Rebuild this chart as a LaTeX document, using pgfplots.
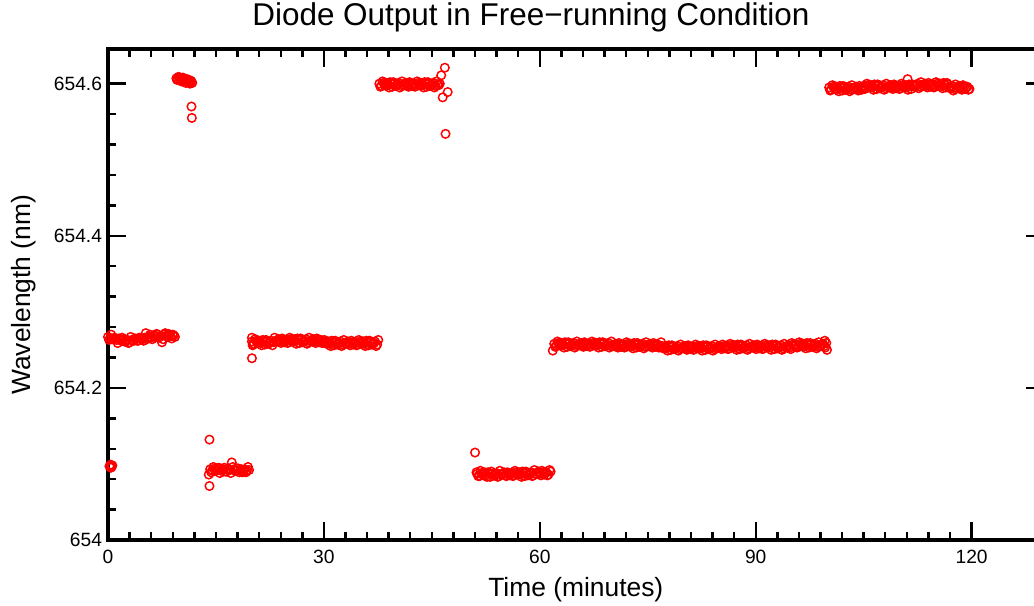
\documentclass[border=0pt]{standalone}
\usepackage{fontspec}
\setmainfont{Liberation Sans}
\usepackage{pgfplots}
\pgfplotsset{compat=1.18}
\pgfplotsset{pts/.style={only marks, mark=o, mark size=3.2pt, color=red, mark options={line width=1.1pt, solid, draw=red, fill=none}}}
\begin{document}
\begin{tikzpicture}
\begin{axis}[
  name=ax,
  scale only axis,
  width=701.7pt, height=367.9pt,
  xmin=0, xmax=130, ymin=654, ymax=654.645,
  clip=false,
  separate axis lines,
  axis line style={line width=3pt, line cap=rect},
  every outer x axis line/.append style={line width=3pt},
  every outer y axis line/.append style={line width=3pt},
  tick align=inside,
  major tick length=13.5pt, minor tick length=6pt,
  tick style={black, line width=1.8pt},
  every tick/.append style={line width=1.8pt},
  xtick={0,30,60,90,120}, xticklabels={0,30,60,90,120},
  minor x tick num=9,
  ytick={654,654.2,654.4,654.6}, yticklabels={654,654.2,654.4,654.6},
  minor y tick num=4,
  /pgf/number format/assume math mode=true,
  tick label style={font=\fontsize{14.4}{17}\selectfont},
  xticklabel style={yshift=-4pt},
  yticklabel style={xshift=-1pt},
  xlabel={Time (minutes)},
  ylabel={Wavelength (nm)},
  xlabel style={font=\fontsize{19.8}{23}\selectfont, at={(axis description cs:0.5,-0.1162)}, anchor=base},
  ylabel style={font=\fontsize{19.8}{23}\selectfont, at={(axis description cs:-0.0823,0.5)}, anchor=base},
  title={Diode Output in Free−running Condition},
  title style={font=\fontsize{23.6}{27}\selectfont, at={(axis description cs:0.452,1.0326)}, anchor=base},
]
% segment near 654.097 at t=0
\addplot[pts] coordinates {(0.2,654.097)(0.35,654.099)(0.5,654.096)(0.6,654.098)(0.4,654.095)};
% segment A
\addplot[pts] coordinates {
(0.0,654.267)(0.3,654.265)(0.6,654.264)(0.9,654.266)(1.2,654.263)(1.5,654.265)(1.8,654.262)(2.1,654.264)
(2.4,654.261)(2.7,654.263)(3.0,654.260)(3.3,654.263)(3.6,654.262)(3.9,654.264)(4.2,654.262)(4.5,654.265)
(4.8,654.264)(5.1,654.266)(5.4,654.264)(5.7,654.267)(6.0,654.266)(6.3,654.269)(6.6,654.267)(6.9,654.270)
(7.2,654.268)(7.5,654.260)(7.8,654.270)(8.1,654.268)(8.4,654.271)(8.7,654.268)(9.0,654.270)(9.3,654.267)};
\addplot[pts] table {
x y
0.15 654.263
0.45 654.270
0.75 654.265
1.05 654.265
1.35 654.259
1.65 654.264
1.95 654.266
2.25 654.261
2.55 654.263
2.85 654.259
3.15 654.267
3.45 654.262
3.75 654.265
4.05 654.262
4.35 654.266
4.65 654.265
4.95 654.262
5.25 654.272
5.55 654.267
5.85 654.270
6.15 654.264
6.45 654.269
6.75 654.271
7.05 654.266
7.35 654.268
7.65 654.264
7.95 654.272
8.25 654.267
8.55 654.270
8.85 654.265
9.15 654.269
};
% segment C
\addplot[pts] coordinates {
(9.5,654.607)(9.7,654.606)(9.9,654.608)(10.1,654.605)(10.3,654.607)(10.5,654.604)(10.7,654.606)
(10.9,654.603)(11.1,654.605)(11.3,654.602)(11.5,654.604)(11.7,654.601)(11.6,654.570)(11.65,654.555)
(9.6,654.605)(9.8,654.609)(10.0,654.606)(10.2,654.603)(10.4,654.608)(10.6,654.605)(10.8,654.601)
(11.0,654.606)(11.2,654.603)(11.4,654.600)(11.6,654.603)};
% segment D
\addplot[pts] coordinates {
(14.2,654.093)(14.5,654.091)(14.8,654.094)(15.1,654.092)(15.4,654.095)(15.7,654.091)(16.0,654.093)
(16.3,654.090)(16.6,654.094)(16.9,654.092)(17.2,654.102)(17.5,654.093)(17.8,654.091)(18.1,654.094)
(18.4,654.092)(18.7,654.089)(19.0,654.093)(19.3,654.091)(19.6,654.092)
(14.1,654.132)(14.1,654.071)(14.0,654.086)
(14.35,654.089)(14.65,654.096)(14.95,654.091)(15.25,654.094)(15.55,654.088)(15.85,654.093)(16.15,654.095)
(16.45,654.090)(16.75,654.092)(17.05,654.088)(17.35,654.096)(17.65,654.091)(17.95,654.094)(18.25,654.089)
(18.55,654.093)(18.85,654.092)(19.15,654.089)(19.45,654.096)};
% segment E
\addplot[pts] coordinates {
(20.0,654.261)(20.3,654.258)(20.6,654.262)(20.9,654.260)(21.2,654.259)(21.5,654.263)(21.8,654.257)(22.1,654.261)
(22.4,654.259)(22.7,654.262)(23.0,654.260)(23.3,654.262)(23.6,654.263)(23.9,654.261)(24.2,654.265)(24.5,654.260)
(24.8,654.263)(25.1,654.260)(25.4,654.264)(25.7,654.262)(26.0,654.261)(26.3,654.265)(26.6,654.259)(26.9,654.263)
(27.2,654.261)(27.5,654.264)(27.8,654.260)(28.1,654.262)(28.4,654.263)(28.7,654.261)(29.0,654.265)(29.3,654.260)
(29.6,654.263)(29.9,654.260)(30.2,654.261)(30.5,654.259)(30.8,654.258)(31.1,654.262)(31.4,654.256)(31.7,654.260)
(32.0,654.258)(32.3,654.261)(32.6,654.257)(32.9,654.259)(33.2,654.260)(33.5,654.258)(33.8,654.262)(34.1,654.257)
(34.4,654.260)(34.7,654.257)(35.0,654.261)(35.3,654.259)(35.6,654.258)(35.9,654.262)(36.2,654.256)(36.5,654.260)
(36.8,654.258)(37.1,654.261)(37.4,654.257)
(20.0,654.266)(20.0,654.239)(20.1,654.256)};
\addplot[pts] table {
x y
20.15 654.257
20.45 654.264
20.75 654.259
21.05 654.262
21.35 654.256
21.65 654.261
21.95 654.263
22.25 654.258
22.55 654.260
22.85 654.256
23.15 654.266
23.45 654.261
23.75 654.264
24.05 654.259
24.35 654.263
24.65 654.262
24.95 654.259
25.25 654.266
25.55 654.261
25.85 654.264
26.15 654.258
26.45 654.263
26.75 654.265
27.05 654.260
27.35 654.262
27.65 654.258
27.95 654.266
28.25 654.261
28.55 654.264
28.85 654.259
29.15 654.263
29.45 654.262
29.75 654.259
30.05 654.263
30.35 654.258
30.65 654.261
30.95 654.255
31.25 654.260
31.55 654.262
31.85 654.257
32.15 654.259
32.45 654.255
32.75 654.263
33.05 654.258
33.35 654.261
33.65 654.256
33.95 654.260
34.25 654.259
34.55 654.256
34.85 654.263
35.15 654.258
35.45 654.261
35.75 654.255
36.05 654.260
36.35 654.262
36.65 654.257
36.95 654.259
37.25 654.255
37.55 654.263
};
% segment F
\addplot[pts] coordinates {
(37.7,654.600)(38.0,654.597)(38.3,654.601)(38.6,654.599)(38.9,654.598)(39.2,654.602)(39.5,654.596)(39.8,654.600)
(40.1,654.598)(40.4,654.601)(40.7,654.597)(41.0,654.599)(41.3,654.600)(41.6,654.598)(41.9,654.602)(42.2,654.597)
(42.5,654.600)(42.8,654.597)(43.1,654.601)(43.4,654.599)(43.7,654.598)(44.0,654.602)(44.3,654.596)(44.6,654.600)
(44.9,654.598)(45.2,654.601)(45.5,654.597)(45.8,654.599)(46.1,654.600)
(46.3,654.611)(46.8,654.621)(47.2,654.589)(46.5,654.582)(46.9,654.534)};
\addplot[pts] table {
x y
37.85 654.596
38.15 654.603
38.45 654.598
38.75 654.601
39.05 654.595
39.35 654.600
39.65 654.602
39.95 654.597
40.25 654.599
40.55 654.595
40.85 654.603
41.15 654.598
41.45 654.601
41.75 654.596
42.05 654.600
42.35 654.599
42.65 654.596
42.95 654.603
43.25 654.598
43.55 654.601
43.85 654.595
44.15 654.600
44.45 654.602
44.75 654.597
45.05 654.599
45.35 654.595
45.65 654.603
45.95 654.598
};
% segment G
\addplot[pts] coordinates {
(51.0,654.115)(51.2,654.089)
(51.3,654.087)(51.6,654.084)(51.9,654.088)(52.2,654.086)(52.5,654.085)(52.8,654.089)(53.1,654.083)(53.4,654.087)
(53.7,654.085)(54.0,654.088)(54.3,654.084)(54.6,654.086)(54.9,654.087)(55.2,654.085)(55.5,654.089)(55.8,654.085)
(56.1,654.088)(56.4,654.085)(56.7,654.089)(57.0,654.087)(57.3,654.086)(57.6,654.090)(57.9,654.084)(58.2,654.088)
(58.5,654.086)(58.8,654.089)(59.1,654.085)(59.4,654.087)(59.7,654.089)(60.0,654.087)(60.3,654.091)(60.6,654.086)
(60.9,654.089)(61.2,654.086)(61.5,654.090)};
\addplot[pts] table {
x y
51.45 654.084
51.75 654.091
52.05 654.086
52.35 654.089
52.65 654.083
52.95 654.088
53.25 654.090
53.55 654.085
53.85 654.087
54.15 654.083
54.45 654.091
54.75 654.086
55.05 654.089
55.35 654.084
55.65 654.088
55.95 654.087
56.25 654.084
56.55 654.091
56.85 654.086
57.15 654.089
57.45 654.083
57.75 654.088
58.05 654.090
58.35 654.085
58.65 654.088
58.95 654.084
59.25 654.092
59.55 654.087
59.85 654.090
60.15 654.085
60.45 654.089
60.75 654.088
61.05 654.085
61.35 654.092
};
% segment H
\addplot[pts] coordinates {
(61.8,654.249)
(62.0,654.258)(62.3,654.255)(62.6,654.259)(62.9,654.257)(63.2,654.256)(63.5,654.260)(63.8,654.254)(64.1,654.258)
(64.4,654.256)(64.7,654.259)(65.0,654.255)(65.3,654.257)(65.6,654.258)(65.9,654.256)(66.2,654.260)(66.5,654.255)
(66.8,654.258)(67.1,654.255)(67.4,654.259)(67.7,654.257)(68.0,654.256)(68.3,654.260)(68.6,654.254)(68.9,654.258)
(69.2,654.256)(69.5,654.259)(69.8,654.255)(70.1,654.256)(70.4,654.257)(70.7,654.255)(71.0,654.259)(71.3,654.254)
(71.6,654.257)(71.9,654.254)(72.2,654.258)(72.5,654.256)(72.8,654.255)(73.1,654.259)(73.4,654.253)(73.7,654.257)
(74.0,654.255)(74.3,654.258)(74.6,654.254)(74.9,654.256)(75.2,654.257)(75.5,654.255)(75.8,654.259)(76.1,654.254)
(76.4,654.257)(76.7,654.254)(77.0,654.255)(77.3,654.253)(77.6,654.252)(77.9,654.256)(78.2,654.250)(78.5,654.254)
(78.8,654.252)(79.1,654.255)(79.4,654.251)(79.7,654.253)(80.0,654.254)(80.3,654.252)(80.6,654.256)(80.9,654.251)
(81.2,654.254)(81.5,654.251)(81.8,654.255)(82.1,654.253)(82.4,654.252)(82.7,654.256)(83.0,654.250)(83.3,654.254)
(83.6,654.252)(83.9,654.255)(84.2,654.251)(84.5,654.253)(84.8,654.254)(85.1,654.253)(85.4,654.257)(85.7,654.252)
(86.0,654.255)(86.3,654.252)(86.6,654.256)(86.9,654.254)(87.2,654.253)(87.5,654.257)(87.8,654.251)(88.1,654.255)
(88.4,654.253)(88.7,654.256)(89.0,654.252)(89.3,654.254)(89.6,654.255)(89.9,654.253)(90.2,654.257)(90.5,654.252)
(90.8,654.255)(91.1,654.252)(91.4,654.256)(91.7,654.254)(92.0,654.253)(92.3,654.257)(92.6,654.251)(92.9,654.255)
(93.2,654.253)(93.5,654.256)(93.8,654.252)(94.1,654.254)(94.4,654.255)(94.7,654.253)(95.0,654.259)(95.3,654.254)
(95.6,654.257)(95.9,654.254)(96.2,654.258)(96.5,654.256)(96.8,654.255)(97.1,654.259)(97.4,654.253)(97.7,654.257)
(98.0,654.255)(98.3,654.258)(98.6,654.254)(98.9,654.256)(99.2,654.257)(99.5,654.255)(99.8,654.259)
(99.9,654.250)(99.6,654.262)};
\addplot[pts] table {
x y
62.15 654.254
62.45 654.261
62.75 654.256
63.05 654.259
63.35 654.253
63.65 654.258
63.95 654.260
64.25 654.255
64.55 654.257
64.85 654.253
65.15 654.261
65.45 654.256
65.75 654.259
66.05 654.254
66.35 654.258
66.65 654.257
66.95 654.254
67.25 654.261
67.55 654.256
67.85 654.259
68.15 654.253
68.45 654.258
68.75 654.260
69.05 654.255
69.35 654.257
69.65 654.253
69.95 654.261
70.25 654.255
70.55 654.258
70.85 654.253
71.15 654.257
71.45 654.256
71.75 654.253
72.05 654.260
72.35 654.255
72.65 654.258
72.95 654.252
73.25 654.257
73.55 654.259
73.85 654.254
74.15 654.256
74.45 654.252
74.75 654.260
75.05 654.255
75.35 654.258
75.65 654.253
75.95 654.257
76.25 654.256
76.55 654.253
76.85 654.260
77.15 654.252
77.45 654.255
77.75 654.249
78.05 654.254
78.35 654.256
78.65 654.251
78.95 654.253
79.25 654.249
79.55 654.257
79.85 654.252
80.15 654.255
80.45 654.250
80.75 654.254
81.05 654.253
81.35 654.250
81.65 654.257
81.95 654.252
82.25 654.255
82.55 654.249
82.85 654.254
83.15 654.256
83.45 654.251
83.75 654.253
84.05 654.249
84.35 654.257
84.65 654.252
84.95 654.255
85.25 654.251
85.55 654.255
85.85 654.254
86.15 654.251
86.45 654.258
86.75 654.253
87.05 654.256
87.35 654.250
87.65 654.255
87.95 654.257
88.25 654.252
88.55 654.254
88.85 654.250
89.15 654.258
89.45 654.253
89.75 654.256
90.05 654.251
90.35 654.255
90.65 654.254
90.95 654.251
91.25 654.258
91.55 654.253
91.85 654.256
92.15 654.250
92.45 654.255
92.75 654.257
93.05 654.252
93.35 654.254
93.65 654.250
93.95 654.258
94.25 654.253
94.55 654.256
94.85 654.251
95.15 654.257
95.45 654.256
95.75 654.253
96.05 654.260
96.35 654.255
96.65 654.258
96.95 654.252
97.25 654.257
97.55 654.259
97.85 654.254
98.15 654.256
98.45 654.252
98.75 654.260
99.05 654.255
99.35 654.258
99.65 654.253
};
% segment I
\addplot[pts] coordinates {
(100.2,654.595)(100.5,654.592)(100.8,654.596)(101.1,654.594)(101.4,654.593)(101.7,654.597)(102.0,654.591)(102.3,654.595)
(102.6,654.593)(102.9,654.596)(103.2,654.592)(103.5,654.594)(103.8,654.595)(104.1,654.593)(104.4,654.597)(104.7,654.592)
(105.0,654.597)(105.3,654.594)(105.6,654.598)(105.9,654.596)(106.2,654.595)(106.5,654.599)(106.8,654.593)(107.1,654.597)
(107.4,654.595)(107.7,654.598)(108.0,654.594)(108.3,654.596)(108.6,654.597)(108.9,654.595)(109.2,654.599)(109.5,654.594)
(109.8,654.597)(110.1,654.594)(110.4,654.598)(110.7,654.596)(111.0,654.595)(111.3,654.599)(111.6,654.593)(111.9,654.597)
(112.2,654.597)(112.5,654.600)(112.8,654.596)(113.1,654.598)(113.4,654.599)(113.7,654.597)(114.0,654.601)(114.3,654.596)
(114.6,654.599)(114.9,654.596)(115.2,654.600)(115.5,654.598)(115.8,654.597)(116.1,654.601)(116.4,654.595)(116.7,654.599)
(117.0,654.594)(117.3,654.597)(117.6,654.593)(117.9,654.595)(118.2,654.596)(118.5,654.594)(118.8,654.598)(119.1,654.593)
(119.4,654.596)(119.7,654.593)(111.1,654.606)};
\addplot[pts] table {
x y
100.35 654.591
100.65 654.598
100.95 654.593
101.25 654.596
101.55 654.590
101.85 654.595
102.15 654.597
102.45 654.592
102.75 654.594
103.05 654.590
103.35 654.598
103.65 654.593
103.95 654.596
104.25 654.591
104.55 654.595
104.85 654.594
105.15 654.593
105.45 654.600
105.75 654.595
106.05 654.598
106.35 654.592
106.65 654.597
106.95 654.599
107.25 654.594
107.55 654.596
107.85 654.592
108.15 654.600
108.45 654.595
108.75 654.598
109.05 654.593
109.35 654.597
109.65 654.596
109.95 654.593
110.25 654.600
110.55 654.595
110.85 654.598
111.15 654.592
111.45 654.597
111.75 654.599
112.05 654.596
112.35 654.598
112.65 654.594
112.95 654.602
113.25 654.597
113.55 654.600
113.85 654.595
114.15 654.599
114.45 654.598
114.75 654.595
115.05 654.602
115.35 654.597
115.65 654.600
115.95 654.594
116.25 654.599
116.55 654.601
116.85 654.596
117.15 654.595
117.45 654.591
117.75 654.599
118.05 654.594
118.35 654.597
118.65 654.592
118.95 654.596
119.25 654.595
119.55 654.592
};
\end{axis}
\pgfresetboundingbox
\path[use as bounding box] ([xshift=-81pt,yshift=-49.5pt]ax.south west) rectangle ([xshift=-7.2pt,yshift=37.1pt]ax.north east);
\end{tikzpicture}
\end{document}
